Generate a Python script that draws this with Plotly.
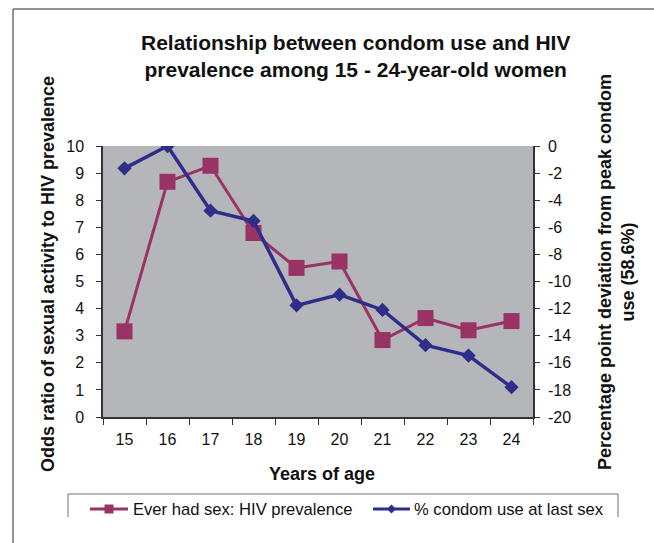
import plotly.graph_objects as go

# ---- data ----
ages = [15, 16, 17, 18, 19, 20, 21, 22, 23, 24]
age_labels = ["15", "16", "17", "18", "19", "20", "21", "22", "23", "24"]
hiv_odds = [3.16, 8.68, 9.27, 6.79, 5.50, 5.74, 2.84, 3.65, 3.20, 3.54]
condom_dev = [-1.65, 0.0, -4.77, -5.53, -11.76, -10.97, -12.1, -14.7, -15.47, -17.8]
left_ticks = [0, 1, 2, 3, 4, 5, 6, 7, 8, 9, 10]
right_ticks = [0, -2, -4, -6, -8, -10, -12, -14, -16, -18, -20]
right_tick_labels = ["0", "-2", "-4", "-6", "-8", "-10", "-12", "-14", "-16", "-18", "-20"]
series_names = ["Ever had sex: HIV prevalence", "% condom use at last sex"]

MAGENTA = "#993366"
NAVY = "#2E2E8A"
GRAY_BG = "#B5B6BA"
FONT = "Liberation Sans, Arial, sans-serif"
TXT = "#111111"

W, H = 654, 543
L, R, T, B = 103, 533, 146, 417


def px(x):
    return (x - L) / (R - L)


def py(y):
    return (B - y) / (B - T)


boundaries = [a - 0.5 for a in ages] + [ages[-1] + 0.5]

fig = go.Figure()
fig.add_trace(go.Scatter(
    x=ages, y=hiv_odds, name=series_names[0], mode="lines+markers",
    line=dict(color=MAGENTA, width=3),
    marker=dict(symbol="square", size=16, color=MAGENTA),
    xaxis="x", yaxis="y", showlegend=False))
fig.add_trace(go.Scatter(
    x=ages, y=condom_dev, name=series_names[1], mode="lines+markers",
    line=dict(color=NAVY, width=3.5),
    marker=dict(symbol="diamond", size=11, color=NAVY),
    xaxis="x", yaxis="y2", showlegend=False))

axis_common = dict(showgrid=False, zeroline=False, linecolor="#333333",
                   tickcolor="#333333", tickfont=dict(family=FONT, size=16, color=TXT))

fig.update_layout(
    width=W, height=H,
    margin=dict(l=L, r=W - R, t=T, b=H - B),
    paper_bgcolor="white", plot_bgcolor=GRAY_BG,
    font=dict(family=FONT, color=TXT),
    xaxis=dict(range=[14.5, 24.5], tickvals=ages, ticktext=age_labels, ticks="",
               showline=True, linewidth=1.5, ticklabelstandoff=7,
               minor=dict(tickvals=boundaries, ticks="outside", ticklen=6,
                          tickcolor="#333333", tickwidth=1),
               **axis_common),
    xaxis2=dict(range=[14.5, 24.5], overlaying="x", anchor="y", tickvals=boundaries,
                ticks="inside", ticklen=6, showticklabels=False, showline=False,
                **axis_common),
    yaxis=dict(range=[0, 10], tickvals=left_ticks, ticks="outside", ticklen=5,
               showline=True, linewidth=1.5, ticklabelstandoff=9, **axis_common),
    yaxis3=dict(range=[0, 10], overlaying="y", anchor="x", tickvals=left_ticks,
                ticks="inside", ticklen=5, showticklabels=False, showline=False,
                **axis_common),
    yaxis2=dict(range=[-20, 0], overlaying="y", side="right", anchor="x",
                tickvals=right_ticks, ticktext=right_tick_labels, ticks="outside",
                ticklen=5, showline=True, linewidth=1.5, ticklabelstandoff=5,
                **axis_common),
    yaxis4=dict(range=[-20, 0], overlaying="y", side="right", anchor="x",
                tickvals=right_ticks, ticks="inside", ticklen=5,
                showticklabels=False, showline=False, **axis_common),
)

annotations = [
    dict(text="<b>Relationship between condom use and HIV<br>prevalence among 15 - 24-year-old women</b>",
         x=px(355), y=py(56), xref="paper", yref="paper", showarrow=False,
         xanchor="center", yanchor="middle", font=dict(family=FONT, size=21, color=TXT)),
    dict(text="<b>Years of age</b>", x=px(322), y=py(474), xref="paper", yref="paper",
         showarrow=False, xanchor="center", yanchor="middle",
         font=dict(family=FONT, size=18, color=TXT)),
    dict(text="<b>Odds ratio of sexual activity to HIV prevalence</b>", x=px(48), y=py(274),
         xref="paper", yref="paper", showarrow=False, textangle=-90,
         xanchor="center", yanchor="middle", font=dict(family=FONT, size=18, color=TXT)),
    dict(text="<b>Percentage point deviation from peak condom<br>use (58.6%)</b>", x=px(616), y=py(272),
         xref="paper", yref="paper", showarrow=False, textangle=-90,
         xanchor="center", yanchor="middle", font=dict(family=FONT, size=18, color=TXT)),
    dict(text=series_names[0], x=px(131), y=py(509), xref="paper", yref="paper",
         showarrow=False, xanchor="left", yanchor="middle",
         font=dict(family=FONT, size=16.6, color=TXT)),
    dict(text=series_names[1], x=px(412), y=py(509), xref="paper", yref="paper",
         showarrow=False, xanchor="left", yanchor="middle",
         font=dict(family=FONT, size=16.6, color=TXT)),
]
fig.update_layout(annotations=annotations)

FRAME = "#707070"
shapes = [
    # outer chart frame (left and top edges visible)
    dict(type="line", xref="paper", yref="paper", x0=px(13), x1=px(13), y0=py(9), y1=py(543),
         line=dict(color=FRAME, width=1.5)),
    dict(type="line", xref="paper", yref="paper", x0=px(13), x1=px(654), y0=py(9), y1=py(9),
         line=dict(color=FRAME, width=1.5)),
    # legend box (clipped at bottom)
    dict(type="line", xref="paper", yref="paper", x0=px(68), x1=px(618), y0=py(494), y1=py(494),
         line=dict(color=FRAME, width=1)),
    dict(type="line", xref="paper", yref="paper", x0=px(68), x1=px(68), y0=py(494), y1=py(517),
         line=dict(color=FRAME, width=1)),
    dict(type="line", xref="paper", yref="paper", x0=px(618), x1=px(618), y0=py(494), y1=py(517),
         line=dict(color=FRAME, width=1)),
    # legend samples
    dict(type="line", xref="paper", yref="paper", x0=px(90), x1=px(128), y0=py(509), y1=py(509),
         line=dict(color=MAGENTA, width=3)),
    dict(type="rect", xref="paper", yref="paper", x0=px(104.5), x1=px(113.5), y0=py(513.5), y1=py(504.5),
         line=dict(width=0), fillcolor=MAGENTA),
    dict(type="line", xref="paper", yref="paper", x0=px(373), x1=px(410), y0=py(509), y1=py(509),
         line=dict(color=NAVY, width=3)),
    dict(type="path", xref="paper", yref="paper",
         path=f"M {px(391.5)},{py(504.5)} L {px(396)},{py(509)} L {px(391.5)},{py(513.5)} L {px(387)},{py(509)} Z",
         line=dict(width=0), fillcolor=NAVY),
]
fig.update_layout(shapes=shapes)

fig.write_html("out.html")
